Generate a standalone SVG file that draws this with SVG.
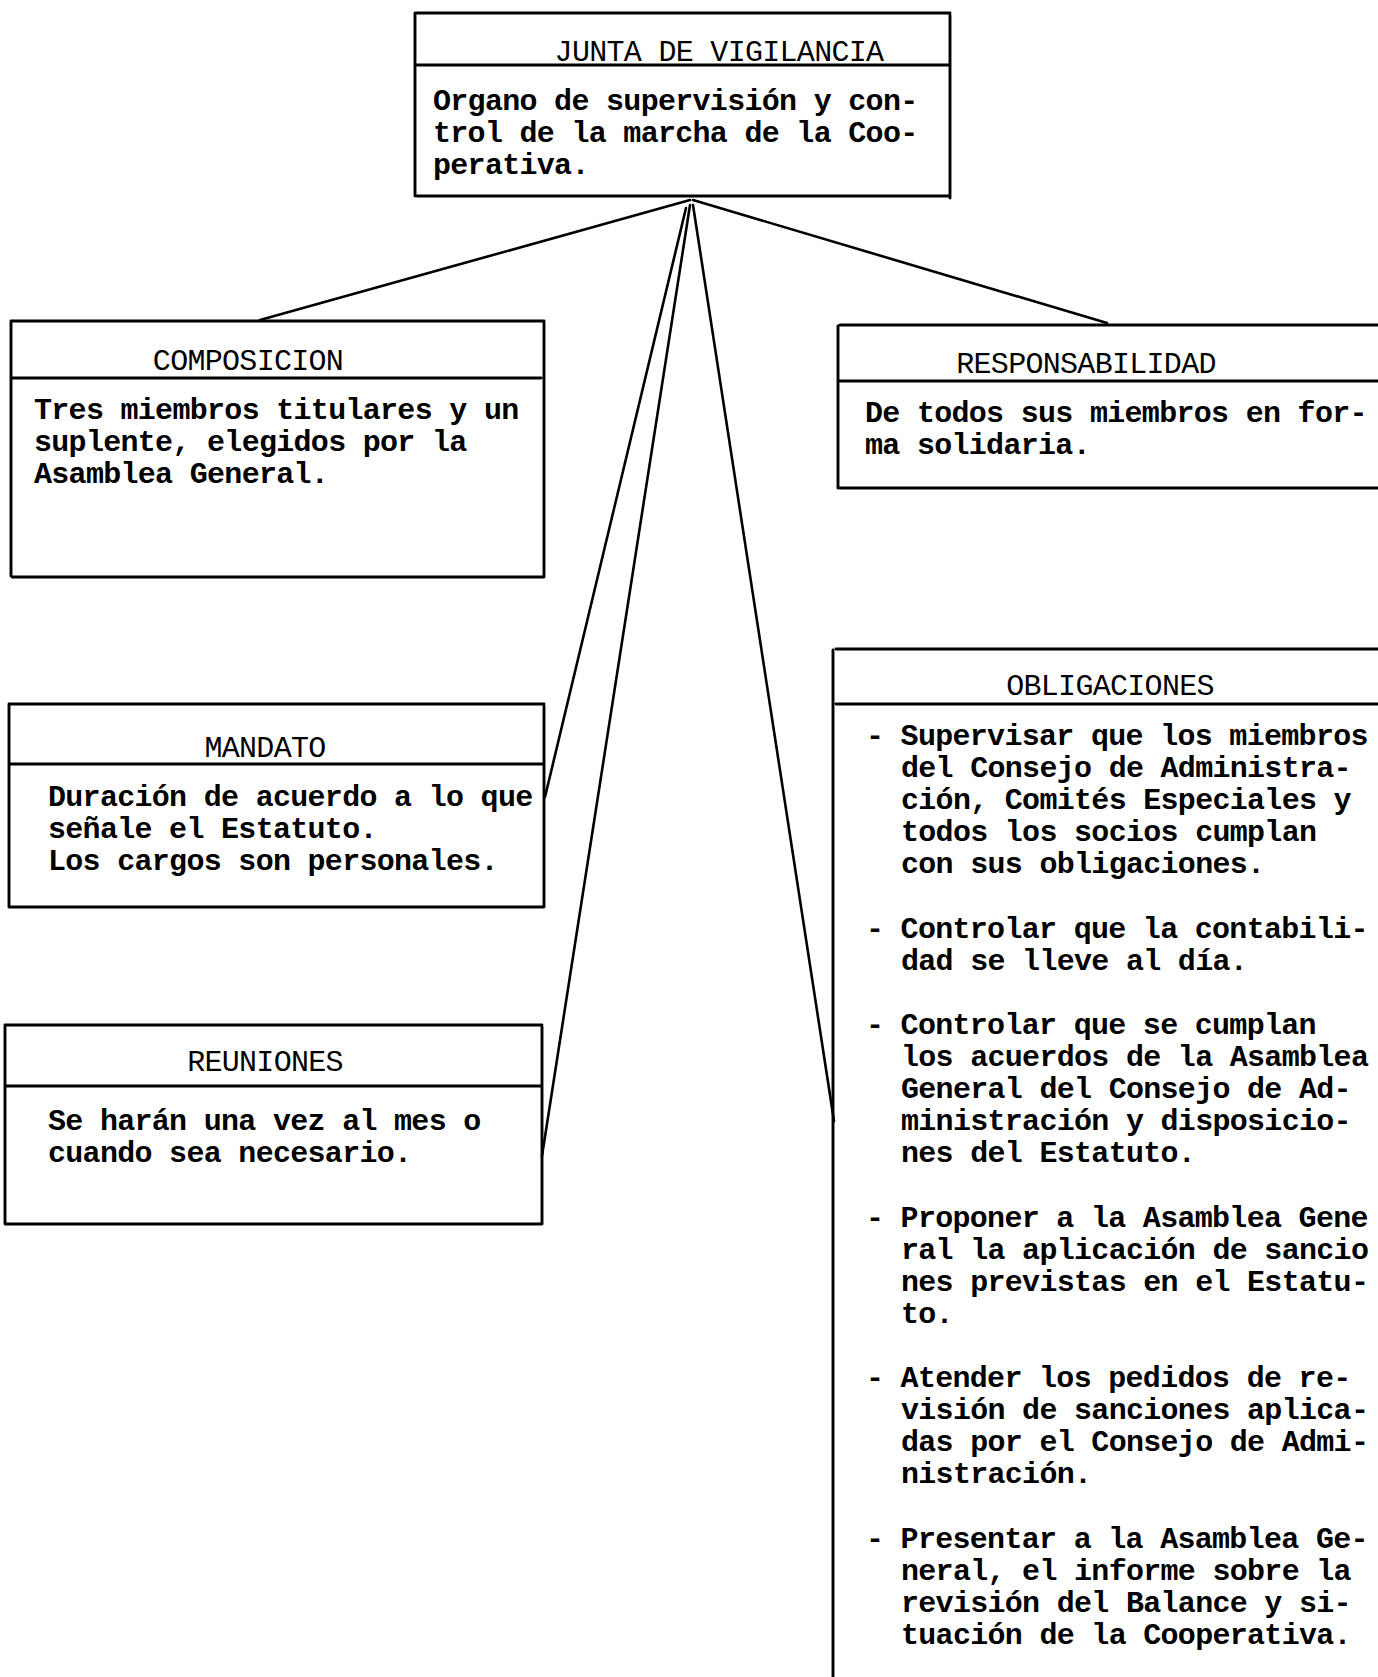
<svg xmlns="http://www.w3.org/2000/svg" width="1378" height="1677" viewBox="0 0 1378 1677">
<style>
.bg{fill:#fff}
.ln{stroke:#000;stroke-width:2.9;fill:none;stroke-linecap:round}
.cn{stroke:#000;stroke-width:2.6;fill:none;stroke-linecap:round}
.h{font-family:"Liberation Mono","DejaVu Sans Mono",monospace;font-size:30px;letter-spacing:-0.7px;fill:#000;text-anchor:middle}
.t{font-family:"Liberation Mono","DejaVu Sans Mono",monospace;font-size:30px;letter-spacing:-0.7px;font-weight:bold;fill:#000}
</style>
<rect class="bg" x="0" y="0" width="1378" height="1677"/>
<g id="connectors">
<line class="cn" x1="690" y1="200" x2="260" y2="320"/>
<line class="cn" x1="693" y1="200" x2="1107" y2="323"/>
<line class="cn" x1="686" y1="208" x2="545" y2="797"/>
<line class="cn" x1="690" y1="205" x2="542" y2="1156"/>
<line class="cn" x1="693" y1="205" x2="834" y2="1121"/>
</g>
<g id="junta">
<path class="ln" d="M417 13 H950 M415 13 V196 M950 15 V198 M417 196 H950 M417 65 H948"/>
<text class="h" x="719" y="61">JUNTA DE VIGILANCIA</text>
<text class="t" x="433" y="110">Organo de supervisión y con-</text>
<text class="t" x="433" y="142">trol de la marcha de la Coo-</text>
<text class="t" x="433" y="174">perativa.</text>
</g>
<g id="composicion">
<path class="ln" d="M12 321 H544 M11 321 V576 M544 322 V577 M12 577 H544 M12 378 H541"/>
<text class="h" x="248" y="370">COMPOSICION</text>
<text class="t" x="34" y="419">Tres miembros titulares y un</text>
<text class="t" x="34" y="451">suplente, elegidos por la</text>
<text class="t" x="34" y="483">Asamblea General.</text>
</g>
<g id="responsabilidad">
<path class="ln" d="M840 325 H1378 M838 326 V488 M840 488 H1378 M840 381 H1378"/>
<text class="h" x="1086" y="373">RESPONSABILIDAD</text>
<text class="t" x="865" y="422">De todos sus miembros en for-</text>
<text class="t" x="865" y="454">ma solidaria.</text>
</g>
<g id="mandato">
<path class="ln" d="M10 704 H544 M9 704 V907 M544 706 V907 M10 907 H544 M10 764 H543"/>
<text class="h" x="265" y="757">MANDATO</text>
<text class="t" x="48" y="806">Duración de acuerdo a lo que</text>
<text class="t" x="48" y="838">señale el Estatuto.</text>
<text class="t" x="48" y="870">Los cargos son personales.</text>
</g>
<g id="reuniones">
<path class="ln" d="M6 1025 H542 M5 1025 V1224 M542 1027 V1224 M6 1224 H542 M6 1086 H542"/>
<text class="h" x="265" y="1071">REUNIONES</text>
<text class="t" x="48" y="1130">Se harán una vez al mes o</text>
<text class="t" x="48" y="1162">cuando sea necesario.</text>
</g>
<g id="obligaciones">
<path class="ln" d="M836 649 H1378 M833 650 V1677 M836 704 H1378"/>
<text class="h" x="1110" y="695">OBLIGACIONES</text>
<text class="t" x="866" y="745">- Supervisar que los miembros</text>
<text class="t" x="901" y="777">del Consejo de Administra-</text>
<text class="t" x="901" y="809">ción, Comités Especiales y</text>
<text class="t" x="901" y="841">todos los socios cumplan</text>
<text class="t" x="901" y="873">con sus obligaciones.</text>
<text class="t" x="866" y="938">- Controlar que la contabili-</text>
<text class="t" x="901" y="970">dad se lleve al día.</text>
<text class="t" x="866" y="1034">- Controlar que se cumplan</text>
<text class="t" x="901" y="1066">los acuerdos de la Asamblea</text>
<text class="t" x="901" y="1098">General del Consejo de Ad-</text>
<text class="t" x="901" y="1130">ministración y disposicio-</text>
<text class="t" x="901" y="1162">nes del Estatuto.</text>
<text class="t" x="866" y="1227">- Proponer a la Asamblea Gene</text>
<text class="t" x="901" y="1259">ral la aplicación de sancio</text>
<text class="t" x="901" y="1291">nes previstas en el Estatu-</text>
<text class="t" x="901" y="1323">to.</text>
<text class="t" x="866" y="1387">- Atender los pedidos de re-</text>
<text class="t" x="901" y="1419">visión de sanciones aplica-</text>
<text class="t" x="901" y="1451">das por el Consejo de Admi-</text>
<text class="t" x="901" y="1483">nistración.</text>
<text class="t" x="866" y="1548">- Presentar a la Asamblea Ge-</text>
<text class="t" x="901" y="1580">neral, el informe sobre la</text>
<text class="t" x="901" y="1612">revisión del Balance y si-</text>
<text class="t" x="901" y="1644">tuación de la Cooperativa.</text>
</g>
</svg>
